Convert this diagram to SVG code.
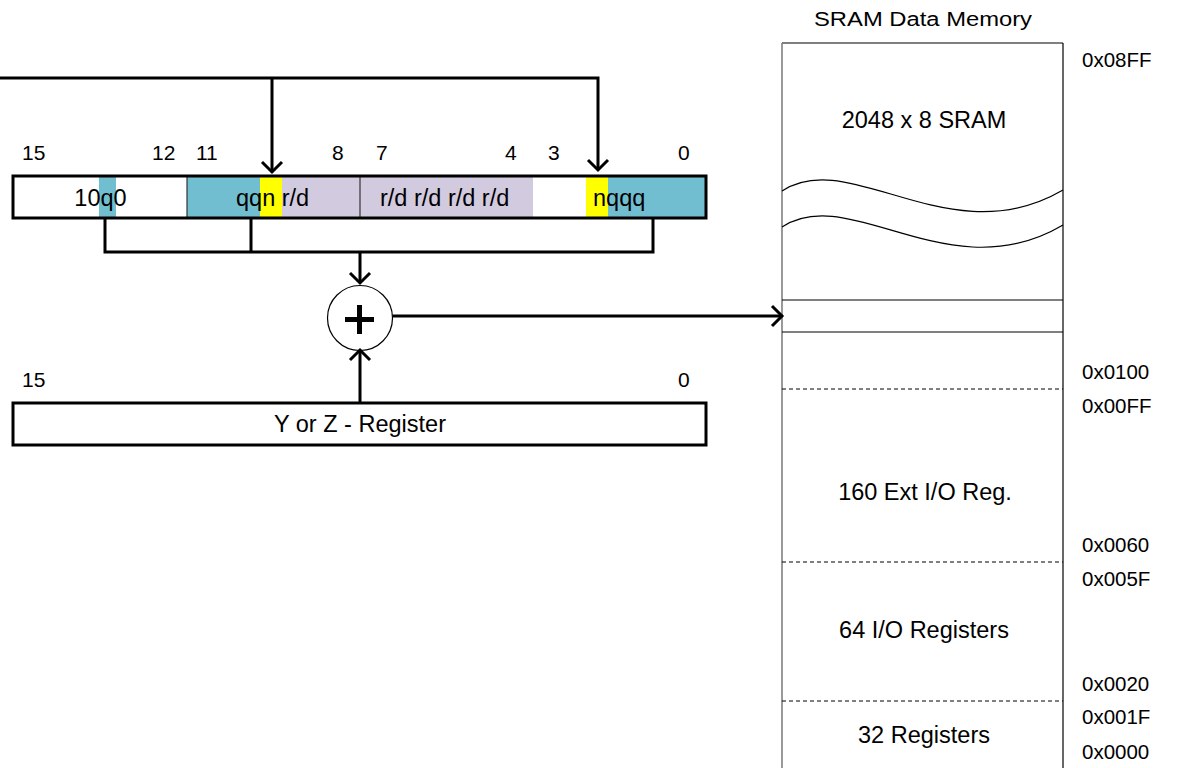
<svg xmlns="http://www.w3.org/2000/svg" width="1177" height="768" viewBox="0 0 1177 768">
<style>
text{font-family:"Liberation Sans",Arial,sans-serif;fill:#000}
.big{font-size:23.5px}
.bit{font-size:21px}
.addr{font-size:20.5px}
.wire{fill:none;stroke:#000;stroke-width:3}
.arr{fill:none;stroke:#000;stroke-width:3;stroke-linecap:butt;stroke-linejoin:miter}
.box{fill:none;stroke:#000;stroke-width:3}
.thin{fill:none;stroke:#000;stroke-width:1.2}
.dash{fill:none;stroke:#000;stroke-width:1;stroke-dasharray:4 3}
</style>
<rect width="1177" height="768" fill="#fff"/>

<g id="instruction">
  <rect x="13" y="176" width="174" height="42" fill="#fff"/>
  <rect x="99" y="176" width="17" height="42" fill="#71BED1"/>
  <rect x="187" y="176" width="73" height="42" fill="#71BED1"/>
  <rect x="260" y="176" width="22" height="42" fill="#FFFF00"/>
  <rect x="282" y="176" width="251" height="42" fill="#D2CBE0"/>
  <rect x="533" y="176" width="53" height="42" fill="#fff"/>
  <rect x="586" y="176" width="22" height="42" fill="#FFFF00"/>
  <rect x="608" y="176" width="98" height="42" fill="#71BED1"/>
  <line x1="187" y1="176" x2="187" y2="218" stroke="#333" stroke-width="1.2"/>
  <line x1="360" y1="176" x2="360" y2="218" stroke="#333" stroke-width="1.2"/>
  <rect class="box" x="13" y="176" width="693" height="42"/>
  <text class="big" x="100.5" y="206" text-anchor="middle">10q0</text>
  <text class="big" x="236" y="206">qqn r/d</text>
  <text class="big" x="380" y="206">r/d r/d r/d r/d</text>
  <text class="big" x="593" y="206">nqqq</text>
  <text class="bit" x="22" y="160">15</text>
  <text class="bit" x="152" y="160">12</text>
  <text class="bit" x="196" y="160">11</text>
  <text class="bit" x="332" y="160">8</text>
  <text class="bit" x="376" y="160">7</text>
  <text class="bit" x="505" y="160">4</text>
  <text class="bit" x="548" y="160">3</text>
  <text class="bit" x="678" y="160">0</text>
</g>

<g id="adder">
  <circle cx="360" cy="318" r="32.5" fill="#fff" stroke="#000" stroke-width="1.2"/>
  <path d="M345,319.5 H374 M359.5,305 V334" fill="none" stroke="#000" stroke-width="5"/>
</g>

<g id="register">
  <rect class="box" x="13" y="403" width="693" height="42" fill="#fff"/>
  <text class="big" x="360" y="432" text-anchor="middle">Y or Z - Register</text>
  <text class="bit" x="22" y="387">15</text>
  <text class="bit" x="678" y="387">0</text>
</g>

<g id="memory">
  <text style="font-size:20px" x="814" y="26" textLength="218" lengthAdjust="spacingAndGlyphs">SRAM Data Memory</text>
  <line x1="782" y1="43" x2="1063" y2="43" stroke="#000" stroke-width="1.2"/>
  <line x1="782" y1="43" x2="782" y2="768" stroke="#808080" stroke-width="1.6"/>
  <line x1="1063" y1="43" x2="1063" y2="768" stroke="#000" stroke-width="1.2"/>
  <path class="thin" d="M782,191 C850,146 950,256 1063,190"/>
  <path class="thin" d="M782,227 C850,182 950,292 1063,225"/>
  <line class="thin" x1="782" y1="300" x2="1063" y2="300"/>
  <line class="thin" x1="782" y1="332" x2="1063" y2="332"/>
  <line class="dash" x1="782" y1="389" x2="1063" y2="389"/>
  <line class="dash" x1="782" y1="562" x2="1063" y2="562"/>
  <line class="dash" x1="782" y1="701" x2="1063" y2="701"/>
  <text class="big" x="924" y="128" text-anchor="middle">2048 x 8 SRAM</text>
  <text class="big" x="925" y="500" text-anchor="middle">160 Ext I/O Reg.</text>
  <text class="big" x="924" y="638" text-anchor="middle">64 I/O Registers</text>
  <text class="big" x="924" y="743" text-anchor="middle">32 Registers</text>
  <text class="addr" x="1082" y="67">0x08FF</text>
  <text class="addr" x="1082" y="379">0x0100</text>
  <text class="addr" x="1082" y="413">0x00FF</text>
  <text class="addr" x="1082" y="552">0x0060</text>
  <text class="addr" x="1082" y="586">0x005F</text>
  <text class="addr" x="1082" y="691">0x0020</text>
  <text class="addr" x="1082" y="724">0x001F</text>
  <text class="addr" x="1082" y="759">0x0000</text>
</g>

<g id="connectors">
  <path class="wire" d="M0,78 H598 V170 M272,78 V172"/>
  <path class="arr" d="M262,162 L272,172 L282,162"/>
  <path class="arr" d="M588,160 L598,170 L608,160"/>
  <path class="wire" d="M105,218 V252 H653 V218 M251,218 V252 M360,252 V283"/>
  <path class="arr" d="M350,273 L360,283 L370,273"/>
  <path class="wire" d="M360,403 V350"/>
  <path class="arr" d="M350,360 L360,350 L370,360"/>
  <path class="wire" d="M392.5,316 H782"/>
  <path class="arr" d="M772,306 L782,316 L772,326"/>
</g>
</svg>
